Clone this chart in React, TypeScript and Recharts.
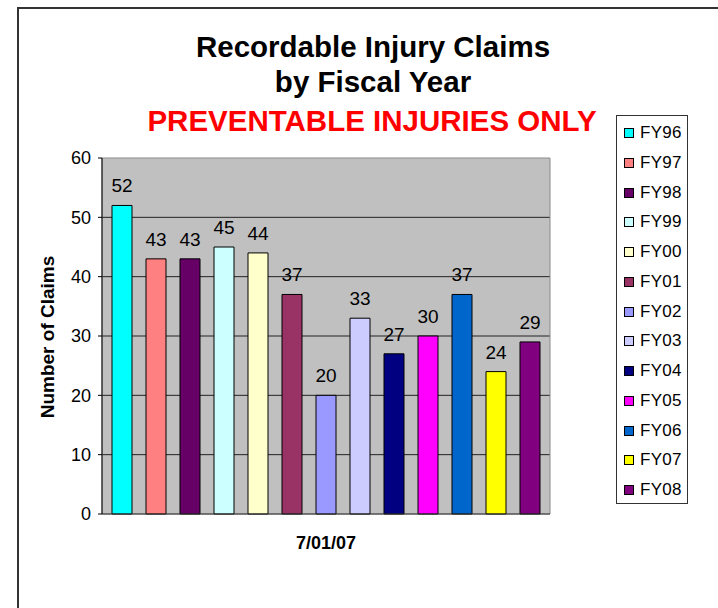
import React from 'react';
import { BarChart, Bar, XAxis, YAxis, CartesianGrid, LabelList, ReferenceArea } from 'recharts';

const categories = ['7/01/07'];
const seriesNames = ['FY96', 'FY97', 'FY98', 'FY99', 'FY00', 'FY01', 'FY02', 'FY03', 'FY04', 'FY05', 'FY06', 'FY07', 'FY08'];
const seriesValues = [52, 43, 43, 45, 44, 37, 20, 33, 27, 30, 37, 24, 29];
const seriesColors = ['#00FFFF', '#FF8080', '#660066', '#CCFFFF', '#FFFFCC', '#993366', '#9999FF', '#CCCCFF', '#000080', '#FF00FF', '#0066CC', '#FFFF00', '#800080'];
const yTicks = [0, 10, 20, 30, 40, 50, 60];
const gridValues = [10, 20, 30, 40, 50];

const titleLines = ['Recordable Injury Claims', 'by Fiscal Year'];
const subtitle = 'PREVENTABLE INJURIES ONLY';
const yAxisTitle = 'Number of Claims';

const data = categories.map((name) => {
  const row: Record<string, string | number> = { name };
  seriesNames.forEach((s, i) => {
    row[s] = seriesValues[i];
  });
  return row;
});

const FONT = '"Liberation Sans", Arial, sans-serif';

export default function App() {
  return (
    <div style={{ position: 'absolute', left: 0, top: 0, width: 718, height: 608, fontFamily: FONT, background: '#fff', overflow: 'hidden' }}>
      <div style={{ position: 'absolute', left: 17, top: 7, width: 720, height: 620, borderTop: '2px solid #333', borderLeft: '2px solid #333' }} />
      {titleLines.map((t, i) => (
        <div key={t} style={{ position: 'absolute', left: 0, width: 746, top: i === 0 ? 32 : 67, textAlign: 'center', fontSize: 29.5, lineHeight: '30px', fontWeight: 'bold', color: '#000' }}>{t}</div>
      ))}
      <div style={{ position: 'absolute', left: 0, width: 744, top: 106, textAlign: 'center', fontSize: 29.5, lineHeight: '30px', fontWeight: 'bold', color: '#FF0000' }}>{subtitle}</div>
      <div style={{ position: 'absolute', left: 48 - 100, top: 337 - 11, width: 200, height: 22, lineHeight: '22px', textAlign: 'center', transform: 'rotate(-90deg)', fontSize: 19, fontWeight: 'bold', color: '#000' }}>{yAxisTitle}</div>
      <BarChart
        width={718}
        height={608}
        data={data}
        margin={{ top: 158, right: 168, bottom: 64, left: 42 }}
        barCategoryGap={10}
        barGap={14}
        style={{ position: 'absolute', left: 0, top: 0 }}
      >
        <CartesianGrid vertical={false} horizontalValues={gridValues} stroke="#222" fill="#C0C0C0" fillOpacity={1} />
        <ReferenceArea y1={0} y2={60} fill="none" stroke="#8a8a8a" strokeWidth={1} ifOverflow="visible" />
        <XAxis
          dataKey="name"
          tickLine={false}
          tickSize={0}
          tickMargin={22}
          height={30}
          axisLine={{ stroke: '#333' }}
          tick={{ fontSize: 18, fontWeight: 'bold', fill: '#000', fontFamily: FONT }}
        />
        <YAxis
          domain={[0, 60]}
          ticks={yTicks}
          interval={0}
          width={60}
          tickSize={4}
          tickMargin={7}
          axisLine={{ stroke: '#000' }}
          tickLine={{ stroke: '#000' }}
          tick={{ fontSize: 18, fill: '#000', fontFamily: FONT }}
        />
        {seriesNames.map((s, i) => (
          <Bar key={s} dataKey={s} fill={seriesColors[i]} stroke="#000" strokeWidth={1} isAnimationActive={false}>
            <LabelList dataKey={s} position="top" offset={13} fill="#000" fontSize={19} fontFamily={FONT} />
          </Bar>
        ))}
      </BarChart>
      <div style={{ position: 'absolute', left: 616, top: 115, width: 70, height: 387, border: '1px solid #333', background: '#fff' }}>
        {seriesNames.map((s, i) => (
          <div key={s} style={{ position: 'absolute', left: 0, top: 17 + i * 29.75 - 10, height: 20, width: 70 }}>
            <div style={{ position: 'absolute', left: 7, top: 5, width: 8, height: 8, border: '1px solid #000', background: seriesColors[i] }} />
            <div style={{ position: 'absolute', left: 23, top: 0, lineHeight: '20px', fontSize: 17, letterSpacing: 0.3, color: '#000' }}>{s}</div>
          </div>
        ))}
      </div>
    </div>
  );
}
